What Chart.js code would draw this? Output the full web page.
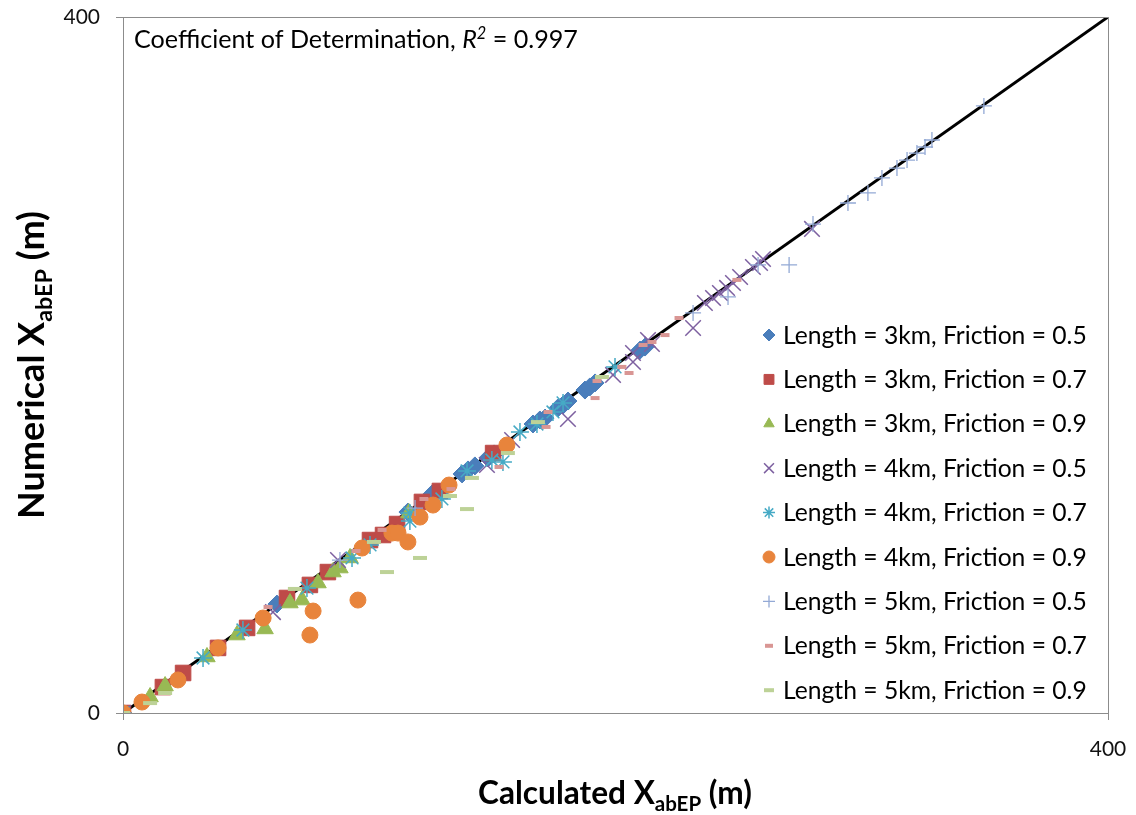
<!DOCTYPE html>
<html>
<head>
<meta charset="utf-8">
<script src="https://cdn.jsdelivr.net/npm/chart.js@4.4.0/dist/chart.umd.min.js"></script>
<style>
html, body { margin: 0; padding: 0; background: #fff; }
</style>
</head>
<body>
<canvas id="c" width="1136" height="815"></canvas>
<script>
// series names, in legend order
const seriesLabels = [
  'Length = 3km, Friction = 0.5',
  'Length = 3km, Friction = 0.7',
  'Length = 3km, Friction = 0.9',
  'Length = 4km, Friction = 0.5',
  'Length = 4km, Friction = 0.7',
  'Length = 4km, Friction = 0.9',
  'Length = 5km, Friction = 0.5',
  'Length = 5km, Friction = 0.7',
  'Length = 5km, Friction = 0.9'
];
const axisTicks = [0, 400];
const fitLine = [[0, 0], [400, 400]];

// [calculated, numerical] pairs
const len3f05 = [[0,0],[62.5,62.6],[115.7,115.5],[125.5,125.9],[137.7,137.4],[140.1,139.7],[142.9,142.0],[148.2,146.6],[150.7,148.9],[166.5,166.1],[169.3,168.4],[171.4,169.5],[176.6,175.3],[178.7,177.0],[180.7,179.3],[187.6,185.6],[189.6,187.4],[191.7,189.7],[210.0,208.6],[212.0,210.3]];
const len3f07 = [[0,0],[16.2,14.9],[24.4,23.0],[38.6,37.4],[50.4,48.9],[66.6,66.1],[75.9,73.6],[83.2,81.0],[100.3,99.4],[105.6,102.3],[111.3,108.6],[121.4,121.3],[128.7,127.6],[150.3,149.4]];
const len3f09 = [[0,0],[11.0,9.2],[17.1,15.5],[34.1,32.2],[46.3,44.8],[57.7,48.3],[67.8,63.2],[72.7,64.9],[79.2,74.7],[85.3,81.0],[88.1,83.3],[92.2,89.1],[116.1,114.9]];
const len4f05 = [[0,0],[60.9,58.0],[87.3,87.9],[147.8,142.5],[158.0,156.9],[180.7,169.0],[199.0,194.3],[207.1,201.7],[207.1,206.9],[213.2,214.4],[214.8,212.1],[231.5,221.3],[236.3,235.6],[239.6,238.5],[242.4,241.4],[245.3,244.3],[247.7,247.1],[250.6,250.6],[255.8,256.3],[258.7,258.6],[259.9,260.9],[279.8,278.2]];
const len4f07 = [[0,0],[32.5,31.6],[48.7,47.7],[74.7,71.8],[93.0,89.1],[100.3,96.6],[116.5,110.3],[116.5,114.9],[129.5,123.0],[139.7,139.1],[149.8,145.4],[154.3,144.3],[161.2,161.5],[168.1,166.1],[174.6,173.0],[178.7,178.2],[199.8,198.9]];
const len4f09 = [[0,0],[7.7,6.3],[22.3,19.0],[38.6,37.4],[56.9,54.6],[75.9,44.8],[77.2,58.6],[95.4,64.9],[97.1,94.8],[109.2,103.4],[111.7,103.4],[115.7,98.3],[120.6,112.6],[125.9,119.5],[132.4,131.0],[155.9,154.0]];
const len5f05 = [[0,0],[88.1,87.9],[118.6,117.8],[231.5,229.9],[245.7,239.1],[257.9,257.5],[270.5,257.5],[280.2,281.0],[294.4,293.1],[302.5,298.9],[308.2,307.5],[314.3,313.2],[318.4,317.8],[322.4,321.8],[325.7,325.3],[328.5,329.3],[349.6,348.9]];
const len5f07 = [[0,0],[58.9,60.9],[94.6,93.1],[105.2,105.2],[122.2,123.0],[133.2,128.7],[152.7,141.4],[171.8,164.4],[172.6,173.0],[191.7,181.0],[192.5,190.8],[202.6,198.9],[205.5,195.4],[211.2,211.5],[214.8,213.2],[220.1,217.2],[225.8,227.0],[249.3,248.9]];
const len5f09 = [[0,0],[11.0,5.7],[17.1,11.5],[69.8,71.3],[101.9,98.3],[107.2,81.0],[120.6,89.1],[132.8,124.7],[139.7,117.2],[141.7,135.1],[156.3,149.4],[168.5,167.2],[194.5,193.1]];

const allSeries = [len3f05, len3f07, len3f09, len4f05, len4f07, len4f09, len5f05, len5f07, len5f09];

const FONT = 'Lato, "Open Sans", sans-serif';

// where the plot box sits in the picture
const target = { left: 123, top: 17, right: 1108, bottom: 713 };

// marker look for each series (plot size r, legend size lr)
const looks = [
  { style: 'rectRot',  color: '#4A7EBB', r: 9,   lr: 6, fill: true },
  { style: 'rect',     color: '#BE4B48', r: 11,  lr: 7, fill: true },
  { style: 'triangle', color: '#98B954', r: 9.5, lr: 6, fill: true },
  { style: 'crossRot', color: '#7D60A0', r: 11,  lr: 7, bw: 1.5 },
  { style: 'star',     color: '#46AAC5', r: 9,   lr: 6, bw: 1.5 },
  { style: 'circle',   color: '#E8843C', r: 8,   lr: 6, fill: true },
  { style: 'cross',    color: '#93A9D5', r: 8,   lr: 6, bw: 1.3 },
  { style: 'line',     color: '#D99694', r: 4.5, lr: 4, bw: 4 },
  { style: 'line',     color: '#BDD297', r: 7,   lr: 5, bw: 4 }
];

const toPts = arr => arr.map(p => ({ x: p[0], y: p[1] }));

const datasets = allSeries.map((s, i) => {
  const lk = looks[i];
  return {
    type: 'scatter',
    label: seriesLabels[i],
    data: toPts(s),
    pointStyle: lk.style,
    pointRadius: lk.r,
    pointBackgroundColor: lk.color,
    pointBorderColor: lk.color,
    pointBorderWidth: lk.fill ? 1 : lk.bw,
    showLine: false,
    order: 10 - i
  };
});
datasets.push({
  type: 'line',
  label: 'y = x',
  data: toPts(fitLine),
  borderColor: '#000',
  borderWidth: 3,
  pointRadius: 0,
  fill: false,
  order: 20
});

function measureRich(ctx, parts, size, weight) {
  let w = 0;
  parts.forEach(p => {
    const fs = (p.sub || p.sup) ? size * 0.65 : size;
    ctx.font = (p.italic ? 'italic ' : '') + weight + ' ' + fs + 'px ' + FONT;
    p.w = ctx.measureText(p.t).width;
    w += p.w;
  });
  return w;
}

function drawRich(ctx, parts, x, y, size, weight, align) {
  const w = measureRich(ctx, parts, size, weight);
  let cx = align === 'center' ? x - w / 2 : x;
  ctx.textAlign = 'left';
  ctx.textBaseline = 'alphabetic';
  parts.forEach(p => {
    const fs = (p.sub || p.sup) ? size * 0.65 : size;
    ctx.font = (p.italic ? 'italic ' : '') + weight + ' ' + fs + 'px ' + FONT;
    const dy = p.sub ? size * 0.22 : (p.sup ? -size * 0.36 : 0);
    ctx.fillText(p.t, cx, y + dy);
    cx += p.w;
  });
}

// size the text so it spans the same width as in the picture
function fitSize(ctx, parts, weight, width) {
  return 20 * width / measureRich(ctx, parts, 20, weight);
}

function drawMarker(ctx, lk, x, y) {
  ctx.fillStyle = lk.color;
  ctx.strokeStyle = lk.color;
  ctx.lineWidth = lk.fill ? 1 : lk.bw;
  if (Chart.helpers && Chart.helpers.drawPoint) {
    Chart.helpers.drawPoint(ctx, { pointStyle: lk.style, radius: lk.lr, rotation: 0, borderWidth: ctx.lineWidth }, x, y);
  }
}

const overlay = {
  id: 'overlay',
  afterDraw(chart) {
    const ctx = chart.ctx;
    const a = chart.chartArea;
    ctx.save();

    // frame round the plot
    ctx.strokeStyle = '#8c8c8c';
    ctx.lineWidth = 1;
    ctx.strokeRect(Math.round(a.left) + 0.5, Math.round(a.top) + 0.5, Math.round(a.right - a.left), Math.round(a.bottom - a.top));

    ctx.fillStyle = '#000';

    // R squared note
    const note = [{ t: 'Coefficient of Determination, ' }, { t: 'R', italic: true }, { t: '2', sup: true, italic: true }, { t: ' = 0.997' }];
    drawRich(ctx, note, 134, 48, fitSize(ctx, note, 'normal', 444), 'normal', 'left');

    // axis titles
    const xt = [{ t: 'Calculated X' }, { t: 'abEP', sub: true }, { t: ' (m)' }];
    drawRich(ctx, xt, 615, 804, fitSize(ctx, xt, 'bold', 274), 'bold', 'center');

    const yt = [{ t: 'Numerical X' }, { t: 'abEP', sub: true }, { t: ' (m)' }];
    ctx.save();
    ctx.translate(44, 365);
    ctx.rotate(-Math.PI / 2);
    drawRich(ctx, yt, 0, 0, fitSize(ctx, yt, 'bold', 308), 'bold', 'center');
    ctx.restore();

    // legend
    const lsize = fitSize(ctx, [{ t: seriesLabels[0] }], 'normal', 304);
    seriesLabels.forEach((lab, i) => {
      const cy = 335 + i * 44.4;
      drawMarker(ctx, looks[i], 769, cy);
      ctx.fillStyle = '#000';
      ctx.font = 'normal ' + lsize + 'px ' + FONT;
      ctx.textAlign = 'left';
      ctx.textBaseline = 'alphabetic';
      ctx.fillText(lab, 783, cy + 8.5);
    });
    ctx.restore();
  }
};

// let the tick labels hang into the margins instead of pushing the plot in
const noEdgePad = s => { s.paddingLeft = 0; s.paddingRight = 0; s.paddingTop = 0; s.paddingBottom = 0; };

const axisBase = {
  type: 'linear',
  min: axisTicks[0],
  max: axisTicks[axisTicks.length - 1],
  afterBuildTicks: s => { s.ticks = axisTicks.map(v => ({ value: v })); },
  grid: { display: true, drawOnChartArea: false, drawTicks: true, tickLength: 7, color: '#8c8c8c' },
  border: { display: true, color: '#8c8c8c', width: 1 },
  title: { display: false }
};

const pad = { top: 17, right: 28, left: 0, bottom: 0 };
let yAxisWidth = 123, xAxisHeight = 102;

const chart = new Chart(document.getElementById('c'), {
  data: { datasets: datasets },
  options: {
    responsive: false,
    animation: false,
    layout: { padding: pad },
    plugins: { legend: { display: false }, tooltip: { enabled: false } },
    scales: {
      x: Object.assign({}, axisBase, {
        position: 'bottom',
        ticks: { font: { family: FONT, size: 21 }, color: '#111', padding: 17, maxRotation: 0 },
        afterFit: s => { s.height = xAxisHeight; noEdgePad(s); }
      }),
      y: Object.assign({}, axisBase, {
        position: 'left',
        ticks: { font: { family: FONT, size: 21 }, color: '#111', padding: 16 },
        afterFit: s => { s.width = yAxisWidth; noEdgePad(s); }
      })
    }
  },
  plugins: [overlay]
});

// nudge the layout so the plot box lands where it is in the picture
for (let k = 0; k < 3; k++) {
  const a = chart.chartArea;
  if (!a) break;
  pad.top += target.top - a.top;
  pad.right += a.right - target.right;
  yAxisWidth += target.left - a.left;
  xAxisHeight += a.bottom - target.bottom;
  chart.options.layout.padding = Object.assign({}, pad);
  chart.update('none');
}
</script>
</body>
</html>
